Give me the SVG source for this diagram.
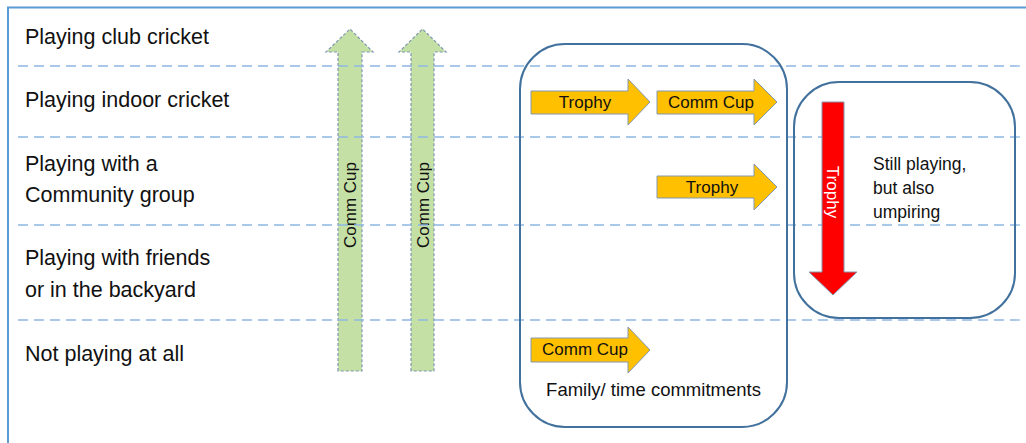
<svg xmlns="http://www.w3.org/2000/svg" width="1026" height="443" viewBox="0 0 1026 443">
<style>
.lbl{font-family:"Liberation Sans",Arial,sans-serif;font-size:21.5px;fill:#111}
.sm{font-family:"Liberation Sans",Arial,sans-serif;font-size:17px;fill:#111}
.note{font-family:"Liberation Sans",Arial,sans-serif;font-size:17.5px;fill:#111}
.grid{stroke:#8fb8e3;stroke-width:1.3;stroke-dasharray:10 6;fill:none}
.green{fill:#c5e0a5;stroke:#7f97b2;stroke-width:1.2;stroke-dasharray:3 2}
.yel{fill:#ffc000;stroke:#8497b0;stroke-width:1}
.red{fill:#ff0000;stroke:#8497b0;stroke-width:1}
.box{fill:none;stroke:#41719c;stroke-width:2}
</style>
<rect x="0" y="0" width="1026" height="443" fill="#ffffff"/>
<path d="M8,443 V7.5 H1026" fill="none" stroke="#5b9bd5" stroke-width="2"/>
<g id="labels">
<text class="lbl" x="25" y="44">Playing club cricket</text>
<text class="lbl" x="25" y="107">Playing indoor cricket</text>
<text class="lbl" x="25" y="171">Playing with a</text>
<text class="lbl" x="25" y="202">Community group</text>
<text class="lbl" x="25" y="265">Playing with friends</text>
<text class="lbl" x="25" y="297">or in the backyard</text>
<text class="lbl" x="25" y="361">Not playing at all</text>
</g>
<g id="green-arrow-1">
<path class="green" d="M338,371 V52 H326 L350,29 L373,52 H362 V371 Z"/>
<text class="sm" transform="translate(356,205) rotate(-90)" text-anchor="middle">Comm Cup</text>
</g>
<g id="green-arrow-2">
<path class="green" d="M411,371 V52 H399 L422.5,29 L446,52 H434 V371 Z"/>
<text class="sm" transform="translate(428.5,205) rotate(-90)" text-anchor="middle">Comm Cup</text>
</g>
<g id="connectors">
<line class="grid" x1="18" y1="66" x2="1020" y2="66"/>
<line class="grid" x1="18" y1="137" x2="1020" y2="137"/>
<line class="grid" x1="18" y1="225" x2="1020" y2="225"/>
<line class="grid" x1="18" y1="320" x2="1020" y2="320"/>
</g>
<g id="box-1">
<rect class="box" x="520" y="44" width="267" height="383" rx="45" ry="45"/>
<text class="note" x="653.5" y="396" text-anchor="middle" style="font-size:18.5px">Family/ time commitments</text>
</g>
<g id="box-2">
<rect class="box" x="794" y="82" width="221" height="236" rx="45" ry="45"/>
<text class="note" x="873" y="170">Still playing,</text>
<text class="note" x="873" y="194">but also</text>
<text class="note" x="873" y="218">umpiring</text>
</g>
<g id="arrow-trophy-1">
<path class="yel" d="M531,91 H628 V79 L650,102 L628,125 V114 H531 Z"/>
<text class="sm" x="585" y="108" text-anchor="middle">Trophy</text>
</g>
<g id="arrow-commcup-1">
<path class="yel" d="M657,91 H754 V79 L777,102 L754,125 V114 H657 Z"/>
<text class="sm" x="711" y="108" text-anchor="middle">Comm Cup</text>
</g>
<g id="arrow-trophy-2">
<path class="yel" d="M657,176 H754 V164 L777,187 L754,210 V198 H657 Z"/>
<text class="sm" x="712" y="193" text-anchor="middle">Trophy</text>
</g>
<g id="arrow-commcup-2">
<path class="yel" d="M531,338 H628 V327 L650,350 L628,373 V362 H531 Z"/>
<text class="sm" x="585" y="355" text-anchor="middle">Comm Cup</text>
</g>
<g id="arrow-trophy-red">
<path class="red" d="M822,102 H844 V272 H857 L833,295 L809,272 H822 Z"/>
<text class="sm" transform="translate(827,192) rotate(90)" text-anchor="middle" style="fill:#ffffff">Trophy</text>
</g>
</svg>
